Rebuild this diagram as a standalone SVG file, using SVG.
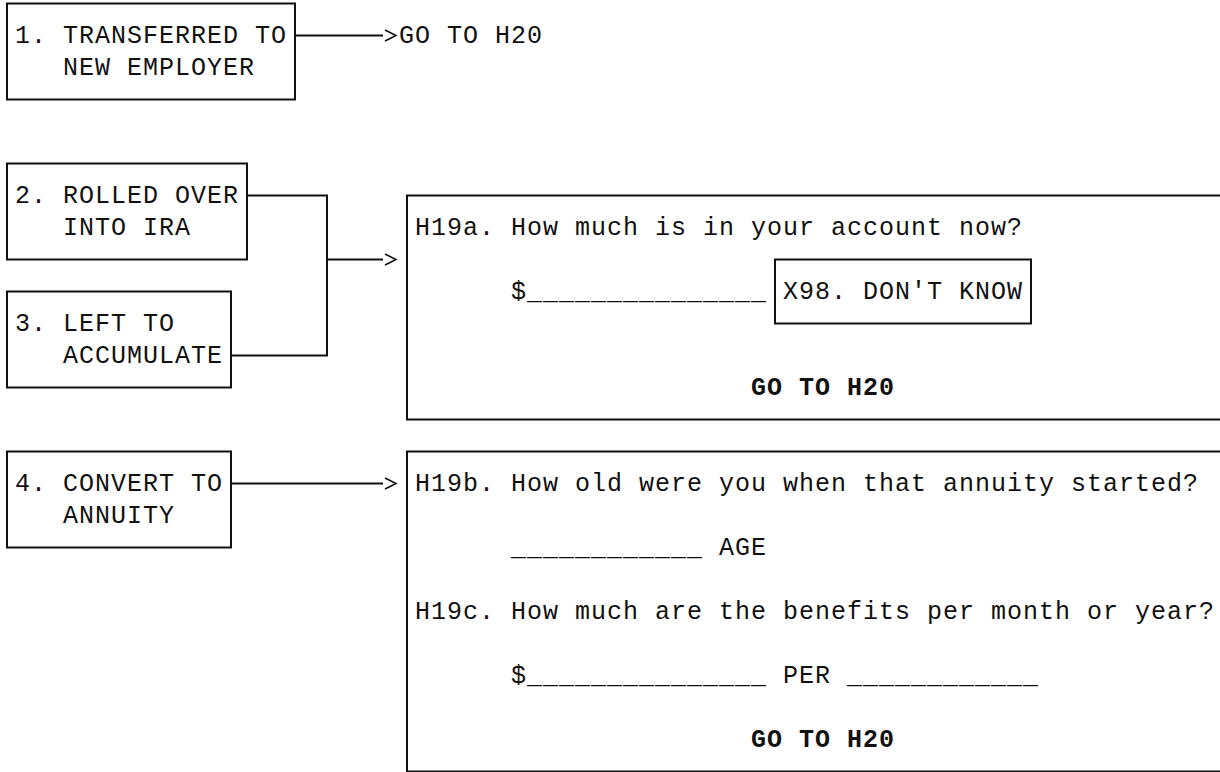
<svg xmlns="http://www.w3.org/2000/svg" width="1220" height="772" viewBox="0 0 1220 772">
<style>
.t{font-family:"Liberation Mono","Courier New",monospace;font-size:25px;letter-spacing:1px;fill:#111;}
.b{font-weight:bold;}
.box{fill:none;stroke:#111;stroke-width:2;}
.conn{fill:none;stroke:#111;stroke-width:2;}
</style>
<defs>
<marker id="chev" markerUnits="userSpaceOnUse" markerWidth="16" markerHeight="14" viewBox="0 0 16 14" refX="-1" refY="7" orient="auto">
<path d="M1,1.5 L12,7 L1,12.5" fill="none" stroke="#111" stroke-width="1.6"/>
</marker>
</defs>
<rect width="1220" height="772" fill="#fff"/>
<g id="connectors">
<path class="conn" d="M295,35.5 H383" marker-end="url(#chev)"/>
<path class="conn" d="M247,195.5 H327 V355.5 H231"/>
<path class="conn" d="M327,259.5 H383" marker-end="url(#chev)"/>
<path class="conn" d="M231,483.5 H383" marker-end="url(#chev)"/>
</g>
<g id="opt1">
<rect class="box" x="7" y="3.5" width="288" height="96"/>
<text class="t" x="15" y="43">1. TRANSFERRED TO</text>
<text class="t" x="63" y="75">NEW EMPLOYER</text>
</g>
<g id="goto1">
<text class="t" x="399" y="43">GO TO H20</text>
</g>
<g id="opt2">
<rect class="box" x="7" y="163.5" width="240" height="96"/>
<text class="t" x="15" y="203">2. ROLLED OVER</text>
<text class="t" x="63" y="235">INTO IRA</text>
</g>
<g id="opt3">
<rect class="box" x="7" y="291.5" width="224" height="96"/>
<text class="t" x="15" y="331">3. LEFT TO</text>
<text class="t" x="63" y="363">ACCUMULATE</text>
</g>
<g id="opt4">
<rect class="box" x="7" y="451.5" width="224" height="96"/>
<text class="t" x="15" y="491">4. CONVERT TO</text>
<text class="t" x="63" y="523">ANNUITY</text>
</g>
<g id="h19a">
<path class="box" d="M1222,195.5 H407 V419.5 H1222"/>
<text class="t" x="415" y="235">H19a. How much is in your account now?</text>
<text class="t" x="511" y="299">$_______________</text>
<g id="x98">
<rect class="box" x="775" y="259.5" width="256" height="64"/>
<text class="t" x="783" y="299">X98. DON'T KNOW</text>
</g>
<text class="t b" x="751" y="395">GO TO H20</text>
</g>
<g id="h19b">
<path class="box" d="M1222,451.5 H407 V771.5 H1222"/>
<text class="t" x="415" y="491">H19b. How old were you when that annuity started?</text>
<text class="t" x="511" y="555">____________ AGE</text>
<text class="t" x="415" y="619">H19c. How much are the benefits per month or year?</text>
<text class="t" x="511" y="683">$_______________ PER ____________</text>
<text class="t b" x="751" y="747">GO TO H20</text>
</g>
</svg>
